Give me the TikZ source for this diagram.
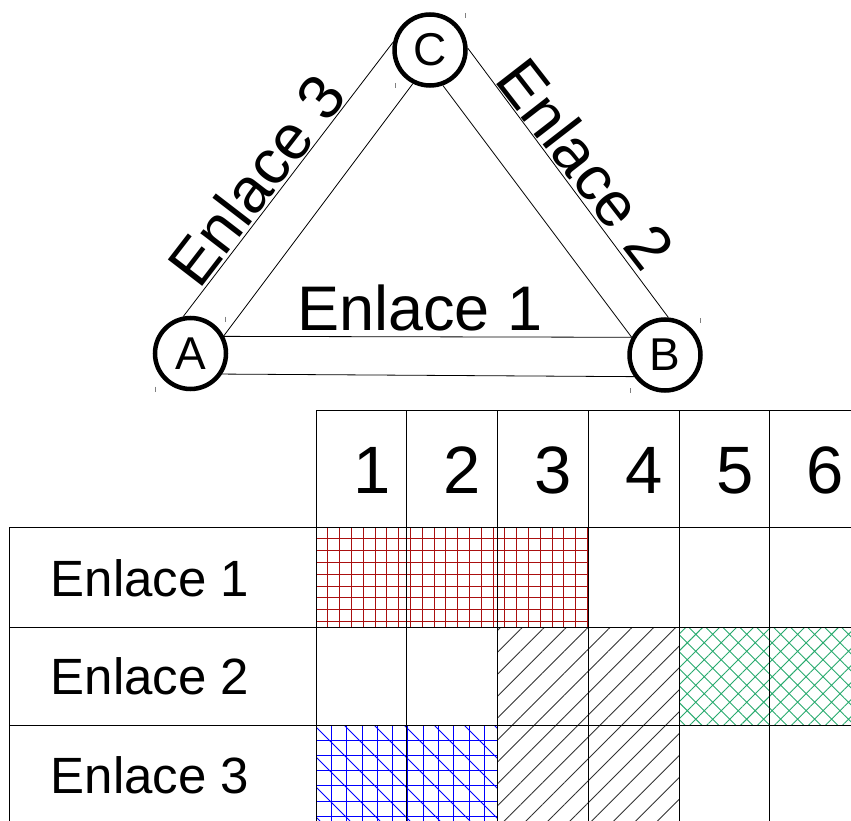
\documentclass[tikz,border=0pt]{standalone}
\usepackage{fontspec}
\setmainfont{Liberation Sans}
\usetikzlibrary{patterns.meta}

\definecolor{gridred}{RGB}{170,15,15}
\definecolor{hatchgreen}{RGB}{40,170,110}

\tikzset{
  router/.style={draw, circle, line width=4.5pt, minimum size=71pt, inner sep=0pt,
    font=\fontsize{46}{46}\selectfont},
  link/.style={line width=0.8pt},
  corner/.style={gray, line width=0.8pt},
  cell/.style={line width=0.9pt},
  redline/.style={gridred, line width=0.8pt},
  blueline/.style={blue, line width=0.8pt},
  biglabel/.style={font=\fontsize{63}{63}\selectfont, inner sep=0pt},
  rowlabel/.style={font=\fontsize{51}{51}\selectfont, inner sep=0pt, anchor=base},
  slot/.style={font=\fontsize{67}{67}\selectfont, inner sep=0pt, anchor=base},
}

\begin{document}
\begin{tikzpicture}[x=1pt, y=-1pt]
\useasboundingbox (0,0) rectangle (851,821);
% routers
\path (190.5,353.5) node[router] (A) {A};
\path (665,355) node[router] (B) {B};
\path (430,50) node[router] (C) {C};
\foreach \r in {A,B,C} {
  \draw[corner] ([shift={(-35,33)}]\r.center) -- ++(0,5);
  \draw[corner] ([shift={(35,-37)}]\r.center) -- ++(0,5);
}
% links
\draw[link] (A.27) -- (B.152);
\draw[link] (A.-33) -- (B.-145);
\draw[link] (A.101) -- (C.168);
\draw[link] (A.28) -- (C.-117);
\draw[link] (C.-70) -- (B.152);
\draw[link] (C.3) -- (B.85);
\node[biglabel] (l1) at (420,308) {Enlace 1};
\node[biglabel, rotate=-52.2] (l2) at (586,164) {Enlace 2};
\node[biglabel, rotate=52.4] (l3) at (256,180) {Enlace 3};

% slots in use
\begin{scope}
\clip (316,527) rectangle (588,627);
\foreach \i in {0,...,23} \draw[redline] (316+\i*11.8,527) -- ++(0,100);
\foreach \i in {0,...,8} \draw[redline] (316,527+\i*11.8) -- ++(272,0);
\end{scope}
\fill[pattern={Lines[angle=45,distance=15.5pt,line width=0.9pt]}, pattern color=black!80]
  (497,627) rectangle (679,821);
\fill[pattern={Hatch[angle=45,distance=12pt,line width=0.9pt]}, pattern color=hatchgreen]
  (679,627) rectangle (851,725);
\begin{scope}
\clip (316,725) rectangle (497,821);
\foreach \i in {0,...,11} \draw[blueline] (316+\i*15.3,725) -- ++(0,96);
\foreach \i in {0,...,6} \draw[blueline] (316,725+\i*15.2) -- ++(181,0);
\foreach \i in {-4,...,6} \draw[blueline] (314+\i*30,725) -- ++(96,96);
\end{scope}

% table
\draw[cell] (316,410) -- (851,410);
\foreach \y in {527,627,725} \draw[cell] (9,\y) -- (851,\y);
\draw[cell] (9,527) -- (9,821);
\foreach \x in {316,406,497,588,679,769} \draw[cell] (\x,410) -- (\x,821);
\foreach \n/\x in {1/361,2/451.5,3/542.5,4/633.5,5/724,6/814.5}
  \node[slot] (s\n) at (\x+11,493) {\n};
\foreach \k/\y in {1/596,2/694,3/793}
  \node[rowlabel] (e\k) at (150,\y) {Enlace \k};
\end{tikzpicture}
\end{document}
